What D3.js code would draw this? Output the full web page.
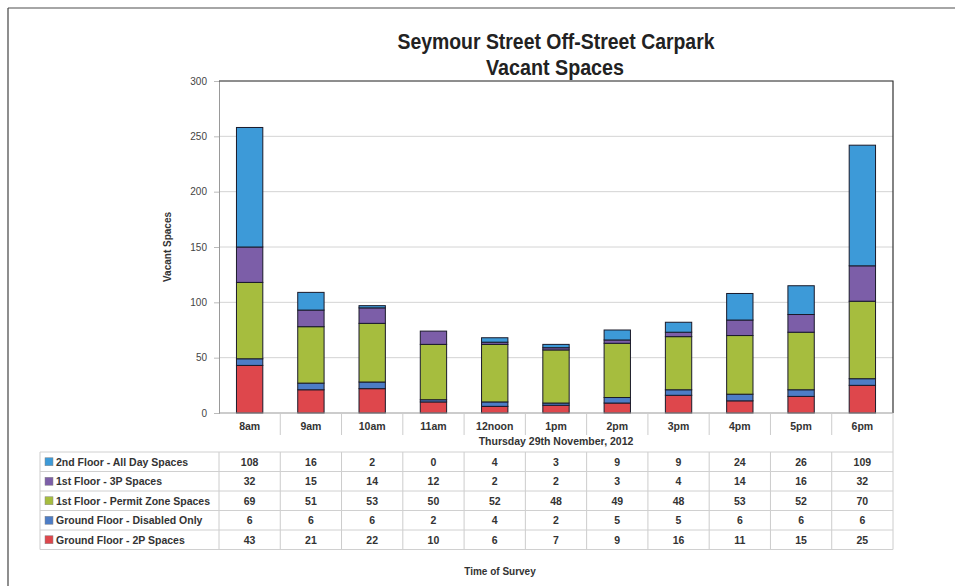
<!DOCTYPE html>
<html><head><meta charset="utf-8">
<script src="https://cdn.jsdelivr.net/npm/d3@7"></script>
<style>body{margin:0;background:#fff;}svg{display:block;font-family:"Liberation Sans",Arial,sans-serif;}</style>
</head><body>
<svg id="c" width="955" height="586"></svg>
<script>
const categories = ["8am","9am","10am","11am","12noon","1pm","2pm","3pm","4pm","5pm","6pm"];
const seriesNames = ["2nd Floor - All Day Spaces","1st Floor - 3P Spaces","1st Floor - Permit Zone Spaces","Ground Floor - Disabled Only","Ground Floor - 2P Spaces"];
const allDay   = [108,16,2,0,4,3,9,9,24,26,109];
const threeP   = [32,15,14,12,2,2,3,4,14,16,32];
const permit   = [69,51,53,50,52,48,49,48,53,52,70];
const disabled = [6,6,6,2,4,2,5,5,6,6,6];
const twoP     = [43,21,22,10,6,7,9,16,11,15,25];
const colors   = ["#3d9ad8","#7c5ea8","#a6bd3e","#4d7dc6","#de474c"];
const yTicks   = [0,50,100,150,200,250,300];
const title1 = "Seymour Street Off-Street Carpark";
const title2 = "Vacant Spaces";
const yTitle = "Vacant Spaces";
const dateLabel = "Thursday 29th November, 2012";
const xTitle = "Time of Survey";

const seriesValues = [allDay, threeP, permit, disabled, twoP];
const svg = d3.select("#c");
const L = 219, R = 893, T = 81, B = 413;
const x = d3.scaleBand().domain(categories).range([L, R]).paddingInner(0.57).paddingOuter(0.285);
const xCol = d3.scaleBand().domain(categories).range([L, R]);
const y = d3.scaleLinear().domain([0, 300]).range([B, T]);

// outer frame
svg.append("line").attr("x1",8).attr("x2",955).attr("y1",8).attr("y2",8).attr("stroke","#888").attr("stroke-width",1.5);
svg.append("line").attr("x1",8).attr("x2",8).attr("y1",8).attr("y2",586).attr("stroke","#444").attr("stroke-width",1.2);

// titles (condensed to match narrow face)
svg.append("text").attr("x",556).attr("y",49).attr("text-anchor","middle")
  .attr("textLength",317).attr("lengthAdjust","spacingAndGlyphs")
  .style("font-weight","bold").style("font-size","22px").attr("fill","#222").text(title1);
svg.append("text").attr("x",555).attr("y",75).attr("text-anchor","middle")
  .attr("textLength",138).attr("lengthAdjust","spacingAndGlyphs")
  .style("font-weight","bold").style("font-size","22px").attr("fill","#222").text(title2);

// gridlines
svg.append("g").selectAll("line").data(yTicks.slice(1)).join("line")
  .attr("x1",L).attr("x2",R).attr("y1",d=>y(d)).attr("y2",d=>y(d)).attr("stroke","#d4d4d4");

// y axis
const yAxis = d3.axisLeft(y).tickValues(yTicks).tickSize(5).tickPadding(7);
const gy = svg.append("g").attr("transform",`translate(${L},0)`).call(yAxis);
gy.select(".domain").attr("stroke","#999");
gy.selectAll(".tick line").attr("stroke","#bbb");
gy.selectAll(".tick text").style("font-size","10px").attr("fill","#444");

svg.append("text").attr("transform",`translate(171,${(T+B)/2}) rotate(-90)`).attr("text-anchor","middle")
  .style("font-size","10px").style("font-weight","bold").attr("fill","#333").text(yTitle);

// stacked bars (bottom to top: 2P, disabled, permit, 3P, all day)
const stackOrder = [4,3,2,1,0];
const rows = categories.map((c,i)=>{ const o={cat:c}; stackOrder.forEach(s=>o["s"+s]=seriesValues[s][i]); return o; });
const stack = d3.stack().keys(stackOrder.map(s=>"s"+s));
const layers = stack(rows);
svg.append("g").selectAll("g").data(layers).join("g")
  .attr("fill",(d,i)=>colors[stackOrder[i]])
  .selectAll("rect").data(d=>d).join("rect")
  .attr("x",d=>x(d.data.cat)).attr("width",x.bandwidth())
  .attr("y",d=>y(d[1])).attr("height",d=>y(d[0])-y(d[1]))
  .attr("stroke","#1a1a2a").attr("stroke-width",1);

// plot frame top/right
svg.append("path").attr("d",`M${L},${T}H${R}V${B}`).attr("fill","none").attr("stroke","#333").attr("stroke-width",1.2);
svg.append("line").attr("x1",L).attr("x2",R).attr("y1",B).attr("y2",B).attr("stroke","#999");

// table
const rowTop = 452, rowH = 19.5, tableL = 40;
const nRows = seriesNames.length;
const g = svg.append("g");
g.selectAll("text.cat").data(categories).join("text").attr("class","cat")
  .attr("x",d=>xCol(d)+xCol.bandwidth()/2).attr("y",B+17).attr("text-anchor","middle")
  .style("font-size","10.5px").style("font-weight","bold").attr("fill","#333").text(d=>d);
g.append("text").attr("x",(L+R)/2).attr("y",B+32).attr("text-anchor","middle")
  .style("font-size","10.5px").style("font-weight","bold").attr("fill","#333").text(dateLabel);
g.selectAll("line.v").data(categories.slice(1)).join("line").attr("class","v")
  .attr("x1",d=>xCol(d)).attr("x2",d=>xCol(d)).attr("y1",B).attr("y2",B+22).attr("stroke","#ccc");
g.selectAll("line.v2").data(categories).join("line").attr("class","v2")
  .attr("x1",d=>xCol(d)).attr("x2",d=>xCol(d)).attr("y1",rowTop).attr("y2",rowTop+nRows*rowH).attr("stroke","#ccc");
g.append("line").attr("x1",R).attr("x2",R).attr("y1",B).attr("y2",rowTop+nRows*rowH).attr("stroke","#ccc");
g.append("line").attr("x1",tableL).attr("x2",tableL).attr("y1",rowTop).attr("y2",rowTop+nRows*rowH).attr("stroke","#ccc");
d3.range(nRows+1).forEach(r=>{
  g.append("line").attr("x1",tableL).attr("x2",R).attr("y1",rowTop+r*rowH).attr("y2",rowTop+r*rowH).attr("stroke","#d0d0d0");
});
seriesNames.forEach((name,r)=>{
  const cy = rowTop + r*rowH + rowH/2;
  g.append("rect").attr("x",tableL+5).attr("y",cy-4).attr("width",8).attr("height",8).attr("fill",colors[r]).attr("stroke","#888").attr("stroke-width",0.5);
  g.append("text").attr("x",tableL+16).attr("y",cy+4).style("font-size","10.5px").style("font-weight","bold").attr("fill","#333").text(name);
  g.selectAll(null).data(seriesValues[r]).join("text")
    .attr("x",(d,i)=>xCol(categories[i])+xCol.bandwidth()/2).attr("y",cy+4).attr("text-anchor","middle")
    .style("font-size","10.5px").style("font-weight","bold").attr("fill","#333").text(d=>d);
});

svg.append("text").attr("x",500).attr("y",575).attr("text-anchor","middle")
  .style("font-size","10px").style("font-weight","bold").attr("fill","#333").text(xTitle);
</script>
</body></html>
